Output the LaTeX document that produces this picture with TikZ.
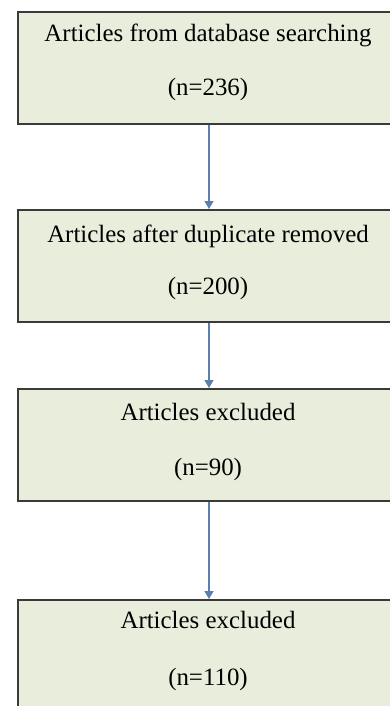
\documentclass[tikz,border=0pt]{standalone}
\usepackage{fontspec}
\setmainfont{Liberation Serif}
\usetikzlibrary{arrows.meta}
\definecolor{boxfill}{HTML}{E9EEDC}
\definecolor{boxdraw}{HTML}{3A3A3A}
\definecolor{arrblue}{HTML}{5B7FAF}
\tikzset{
  stagebox/.style={draw=boxdraw, fill=boxfill, line width=2pt, rectangle, inner sep=0pt,
    minimum width=382pt, minimum height=112pt, anchor=north west},
  txt/.style={anchor=base, inner sep=0pt, text=black, font=\fontsize{24.9}{30}\selectfont},
  flow/.style={draw=arrblue, line width=1.4pt, -{Triangle[width=9pt,length=8pt]}}
}
\begin{document}
\begin{tikzpicture}[x=1pt,y=-1pt]
\useasboundingbox (0,0) rectangle (390,706);
\fill[white] (0,0) rectangle (390,706);
\clip (0,0) rectangle (390,706);
\node[stagebox] (b1) at (17,11) {};
\node[stagebox] (b2) at (17,209) {};
\node[stagebox] (b3) at (17,388) {};
\node[stagebox] (b4) at (17,599) {};
\node[txt] (t1a) at (208,42) {Articles from database searching};
\node[txt] (t1b) at (208,96) {(n=236)};
\node[txt] (t2a) at (208,242) {Articles after duplicate removed};
\node[txt] (t2b) at (208,294) {(n=200)};
\node[txt] (t3a) at (208,420) {Articles excluded};
\node[txt] (t3b) at (208,475) {(n=90)};
\node[txt] (t4a) at (208,628) {Articles excluded};
\node[txt] (t4b) at (208,685) {(n=110)};
\draw[flow] (b1.south) -- (b2.north);
\draw[flow] (b2.south) -- (b3.north);
\draw[flow] (b3.south) -- (b4.north);
\end{tikzpicture}
\end{document}
